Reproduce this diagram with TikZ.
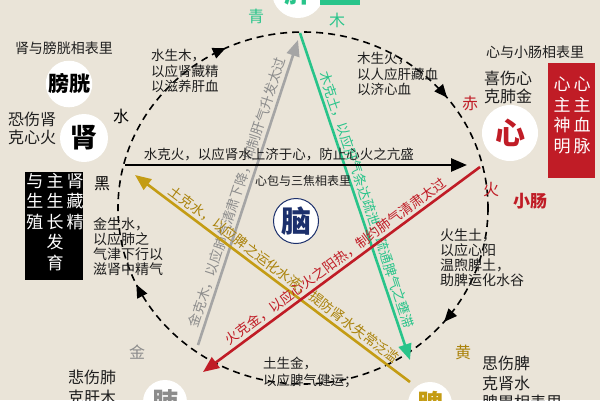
\documentclass[tikz,border=0pt]{standalone}
\usepackage{fontspec}
\setmainfont{Noto Sans CJK SC}
\usetikzlibrary{arrows.meta,decorations.markings}
\definecolor{wxbg}{RGB}{234,228,216}
\definecolor{wxgreen}{RGB}{40,196,138}
\definecolor{wxred}{RGB}{192,28,38}
\definecolor{wxgold}{RGB}{196,156,20}
\definecolor{wxgoldtext}{RGB}{170,130,10}
\definecolor{wxgray}{RGB}{165,165,165}
\definecolor{wxgraytext}{RGB}{140,140,140}
\definecolor{wxnavy}{RGB}{28,48,108}
\definecolor{wxtext}{RGB}{30,30,30}
\newcommand{\wxfs}[2]{\fontsize{#1}{#2}\selectfont}

\begin{document}
\begin{tikzpicture}[x=1pt, y=-1pt,
  organ/.style={circle, fill=white, inner sep=0pt, minimum size=#1},
  note/.style={anchor=north west, align=left, inner sep=0pt, text=wxtext, font=\wxfs{13.5}{15.5}},
  harm/.style={anchor=north west, align=left, inner sep=0pt, text=wxtext, font=\wxfs{16}{18}},
  pair/.style={text=wxtext, font=\wxfs{14}{14}},
  colour/.style={font=\wxfs{16}{16}},
  column/.style={anchor=north, align=center, inner sep=0pt, text=white, font=\wxfs{17}{20.5}},
  ke/.style={line width=2.6pt, -{Triangle[length=16pt, width=13pt]}},
  kerev/.style={line width=2.6pt, {Triangle[length=16pt, width=13pt]}-},
  kelabel/.style={sloped, above, inner sep=2.5pt, font=\wxfs{13.5}{13.5}}]
  \useasboundingbox (0,0) rectangle (600,400);
  \clip (0,0) rectangle (600,400);
  \fill[wxbg] (0,0) rectangle (600,400);

  % sheng cycle
  \draw[line width=1.6pt, dash pattern=on 7pt off 5pt, postaction={decorate},
    decoration={markings,
      mark=at position 0.11 with {\arrow{Triangle[length=13pt, width=11pt]}},
      mark=at position 0.43 with {\arrow{Triangle[length=13pt, width=11pt]}},
      mark=at position 0.68 with {\arrow{Triangle[length=13pt, width=11pt]}},
      mark=at position 0.894 with {\arrow{Triangle[length=13pt, width=11pt]}}}]
    (303,208) ellipse [x radius=185, y radius=176];

  % ke arrows
  \coordinate (shuiA) at (125,165);
  \coordinate (shuiB) at (467,165);
  \coordinate (muA) at (300,33);
  \coordinate (muB) at (410,360);
  \coordinate (jinA) at (198,345);
  \coordinate (jinB) at (298,40);
  \coordinate (huoA) at (203,372);
  \coordinate (huoB) at (480,167);
  \coordinate (tuA) at (135,175);
  \coordinate (tuB) at (410,382);
  \draw[ke, wxgray] (jinA) -- node[kelabel, text=wxgraytext, pos=0.49] {金克木，以应肺气清肃下降，抑制肝气升发太过} (jinB);
  \draw[ke, wxgreen] (muA) -- node[kelabel, text=wxgreen, pos=0.52] {木克土，以应肝气条达疏泄，疏通脾气之壅滞} (muB);
  \draw[kerev, wxgold] (tuA) -- node[kelabel, text=wxgoldtext, pos=0.52] {土克水，以应脾之运化水液，提防肾水失常泛滥} (tuB);
  \draw[kerev, wxred] (huoA) -- node[kelabel, text=wxred, pos=0.5] {火克金，以应心火之阳热，制约肺气清肃太过} (huoB);
  \draw[ke, black] (shuiA) -- node[above, pos=0.45, inner sep=3pt, text=wxtext, font=\wxfs{13.5}{13.5}] {水克火，以应肾水上济于心，防止心火之亢盛} (shuiB);

  % organs
  \node[organ=52, text=wxgreen, font=\bfseries\wxfs{28}{28}] (gan) at (298,-8) {肝};
  \fill[wxgreen] (320,-10) rectangle (360,5);
  \node[organ=56, text=wxred, font=\bfseries\wxfs{30}{30}] (xin) at (510,133) {心};
  \node[organ=44, text=wxgold, font=\bfseries\wxfs{26}{26}] (pi) at (430,404) {脾};
  \node[organ=44, text=wxgraytext, font=\bfseries\wxfs{26}{26}] (fei) at (165,402) {肺};
  \node[organ=48, text=black, font=\bfseries\wxfs{27}{27}] (shen) at (84,138) {肾};
  \node[organ=44, text=black, font=\bfseries\wxfs{21}{21}] (pangguang) at (69,84) {膀胱};
  \node[organ=45, draw=wxnavy, line width=1pt, text=wxnavy, font=\bfseries\wxfs{30}{30}] (nao) at (296,221) {脑};
  \node[text=wxred, font=\bfseries\wxfs{17}{17}] (xiaochang) at (530,201) {小肠};

  % five colours and phases
  \node[colour, text=wxgreen] (qing) at (256,16) {青};
  \node[colour, text=wxgreen] (mu) at (337,20) {木};
  \node[colour, text=wxred] (chi) at (470,103) {赤};
  \node[colour, text=wxred] (huo) at (491,190) {火};
  \node[colour, text=wxgoldtext] (huang) at (463,352) {黄};
  \node[colour, text=wxgraytext] (jin) at (137,352) {金};
  \node[colour, text=black] (hei) at (102,184) {黑};
  \node[colour, text=black] (shui) at (121,116) {水};

  % pairs
  \node[pair] (shenpair) at (64,48) {肾与膀胱相表里};
  \node[pair] (xinpair) at (535,52) {心与小肠相表里};
  \node[pair, font=\wxfs{12}{12}] (naopair) at (303,181) {心包与三焦相表里};

  % emotions
  \node[harm] (kong) at (8,112) {恐伤肾\\克心火};
  \node[harm] (xi) at (484,71) {喜伤心\\克肺金};
  \node[harm, font=\wxfs{16}{19.5}] (si) at (482,356) {思伤脾\\克肾水\\脾胃相表里};
  \node[harm, font=\wxfs{16}{19.5}] (bei) at (68,370) {悲伤肺\\克肝木};

  % sheng notes
  \node[note] (shuisheng) at (151,49) {水生木，\\以应肾藏精\\以滋养肝血};
  \node[note] (musheng) at (357,52) {木生火，\\以人应肝藏血\\以济心血};
  \node[note, font=\wxfs{14}{15}] (huosheng) at (440,229) {火生土，\\以应心阳\\温煦脾土，\\助脾运化水谷};
  \node[note, font=\wxfs{13.5}{17}] (tusheng) at (263,357) {土生金，\\以应脾气健运；};
  \node[note, font=\wxfs{14}{15}] (jinsheng) at (93,217) {金生水，\\以应肺之\\气津下行以\\滋肾中精气};

  % boxes
  \node[fill=black, minimum width=58, minimum height=108] (shenbox) at (54,226) {};
  \node[column] at (75,173) {肾\\藏\\精};
  \node[column] at (55,173) {主\\生\\长\\发\\育};
  \node[column] at (35,173) {与\\生\\殖};
  \node[fill=wxred, minimum width=47, minimum height=115] (xinbox) at (571.5,120.5) {};
  \node[column] at (562,77) {心\\主\\神\\明};
  \node[column] at (582,77) {心\\主\\血\\脉};
\end{tikzpicture}
\end{document}
